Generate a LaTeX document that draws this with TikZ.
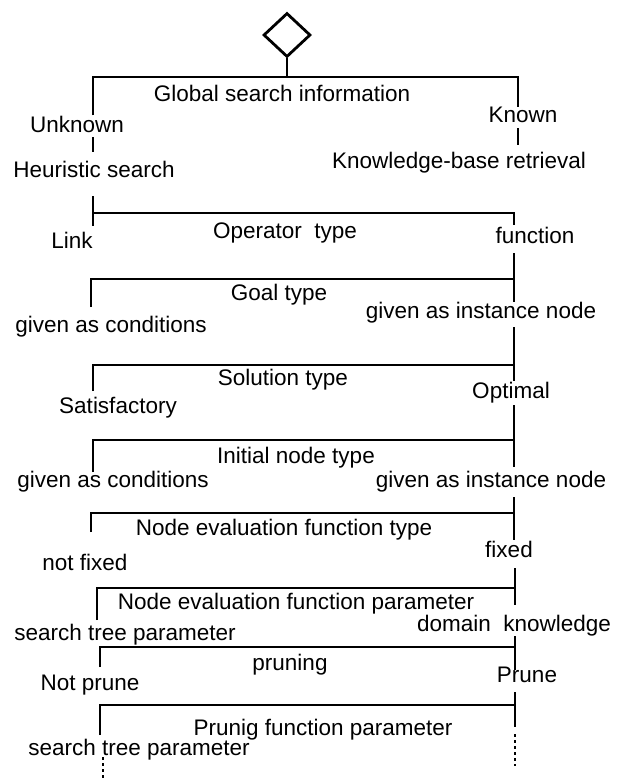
\documentclass[tikz,border=0pt]{standalone}
\usepackage{fontspec}
\setmainfont{Liberation Sans}
\usetikzlibrary{shapes.geometric}
\begin{document}
\begin{tikzpicture}[x=1pt,y=-1pt,
  lbl/.style={anchor=base,inner sep=0pt,font=\fontsize{22.5}{27}\selectfont},
  link/.style={line width=2.4pt},
  dots/.style={line width=2.4pt,dash pattern=on 2.5pt off 3.5pt}]
\useasboundingbox[fill=white] (0,0) rectangle (616,781);

% root symbol
\node[diamond,draw,line width=2.8pt,minimum width=47pt,minimum height=44pt,inner sep=0pt] (root) at (287,35) {};

% labels: decisions (centred) and their alternatives (left / right)
\node[lbl] (gsi)    at (282,102) {Global search information};
\node[lbl] (unk)    at (77,132)  {Unknown};
\node[lbl] (kn)     at (523,123) {Known};
\node[lbl] (heur)   at (94,177)  {Heuristic search};
\node[lbl] (kbr)    at (459,168) {Knowledge-base retrieval};
\node[lbl] (link)   at (72,248)  {Link};
\node[lbl] (optype) at (285,238) {Operator\ \ type};
\node[lbl] (func)   at (535,243) {function};
\node[lbl] (goal)   at (279,300) {Goal type};
\node[lbl] (gin1)   at (481,318) {given as instance node};
\node[lbl] (gc1)    at (111,332) {given as conditions};
\node[lbl] (sol)    at (283,385) {Solution type};
\node[lbl] (opt)    at (511,398) {Optimal};
\node[lbl] (sat)    at (118,413) {Satisfactory};
\node[lbl] (init)   at (296,463) {Initial node type};
\node[lbl] (gc2)    at (113,487) {given as conditions};
\node[lbl] (gin2)   at (491,487) {given as instance node};
\node[lbl] (netype) at (284,535) {Node evaluation function type};
\node[lbl] (fixed)  at (509,557) {fixed};
\node[lbl] (nfixed) at (85,570)  {not fixed};
\node[lbl] (nepar)  at (296,609) {Node evaluation function parameter};
\node[lbl] (dk)     at (514,631) {domain\ \ knowledge};
\node[lbl] (stp1)   at (125,640) {search tree parameter};
\node[lbl] (prn)    at (290,670) {pruning};
\node[lbl] (prune)  at (527,682) {Prune};
\node[lbl] (nprune) at (90,690)  {Not prune};
\node[lbl] (pfp)    at (323,735) {Prunig function parameter};
\node[lbl] (stp2)   at (139,755) {search tree parameter};

% level 1
\coordinate (j1)  at (287,77);
\coordinate (b1l) at (93,77);  \coordinate (b1r) at (518,77);
\coordinate (t1a) at (93,137); \coordinate (t1b) at (93,152);
\coordinate (t1c) at (518,128);\coordinate (t1d) at (518,145);
\draw[link] (root) -- (j1);
\draw[link] (b1l |- unk.north) -- (b1l) -- (b1r) -- (b1r |- kn.north);
\draw[link] (t1a) -- (t1b);
\draw[link] (t1c) -- (t1d);

% level 2
\coordinate (b2l) at (93,213);  \coordinate (b2r) at (514,213);
\coordinate (t2a) at (93,196);  \coordinate (t2b) at (93,226);
\coordinate (t2c) at (514,225);
\draw[link] (t2a) -- (t2b);
\draw[link] (b2l) -- (b2r) -- (t2c);

% level 3
\coordinate (b3l) at (91,279);  \coordinate (b3r) at (514,279);
\coordinate (t3a) at (514,253); \coordinate (t3b) at (514,302);
\coordinate (t3c) at (91,307);
\draw[link] (t3a) -- (t3b);
\draw[link] (t3c) -- (b3l) -- (b3r);

% level 4
\coordinate (b4l) at (93,365);  \coordinate (b4r) at (514,365);
\coordinate (t4a) at (514,327); \coordinate (t4b) at (514,381);
\coordinate (t4c) at (93,391);
\draw[link] (t4a) -- (t4b);
\draw[link] (t4c) -- (b4l) -- (b4r);

% level 5
\coordinate (b5l) at (93,440);  \coordinate (b5r) at (514,440);
\coordinate (t5a) at (514,405); \coordinate (t5b) at (514,467);
\coordinate (t5c) at (93,472);
\draw[link] (t5a) -- (t5b);
\draw[link] (t5c) -- (b5l) -- (b5r);

% level 6
\coordinate (b6l) at (91,513);  \coordinate (b6r) at (514,513);
\coordinate (t6a) at (514,497); \coordinate (t6b) at (514,540);
\coordinate (t6c) at (91,532);
\draw[link] (t6a) -- (t6b);
\draw[link] (t6c) -- (b6l) -- (b6r);

% level 7
\coordinate (b7l) at (97,588);  \coordinate (b7r) at (515,588);
\coordinate (t7a) at (515,568); \coordinate (t7b) at (515,605);
\coordinate (t7c) at (97,620);
\draw[link] (t7a) -- (t7b);
\draw[link] (t7c) -- (b7l) -- (b7r);

% level 8
\coordinate (b8l) at (100,647); \coordinate (b8r) at (515,647);
\coordinate (t8a) at (515,636); \coordinate (t8b) at (515,670);
\coordinate (t8c) at (100,667);
\draw[link] (t8a) -- (t8b);
\draw[link] (t8c) -- (b8l) -- (b8r);

% level 9, continued by dotted lines
\coordinate (b9l) at (100,705); \coordinate (b9r) at (515,705);
\coordinate (t9a) at (515,692); \coordinate (t9b) at (515,727);
\coordinate (t9c) at (100,735);
\coordinate (d9a) at (515,734); \coordinate (d9b) at (515,766);
\coordinate (d9c) at (103,757); \coordinate (d9d) at (103,781);
\draw[link] (t9a) -- (t9b);
\draw[link] (t9c) -- (b9l) -- (b9r);
\draw[dots] (d9a) -- (d9b);
\draw[dots] (d9c) -- (d9d);
\end{tikzpicture}
\end{document}
